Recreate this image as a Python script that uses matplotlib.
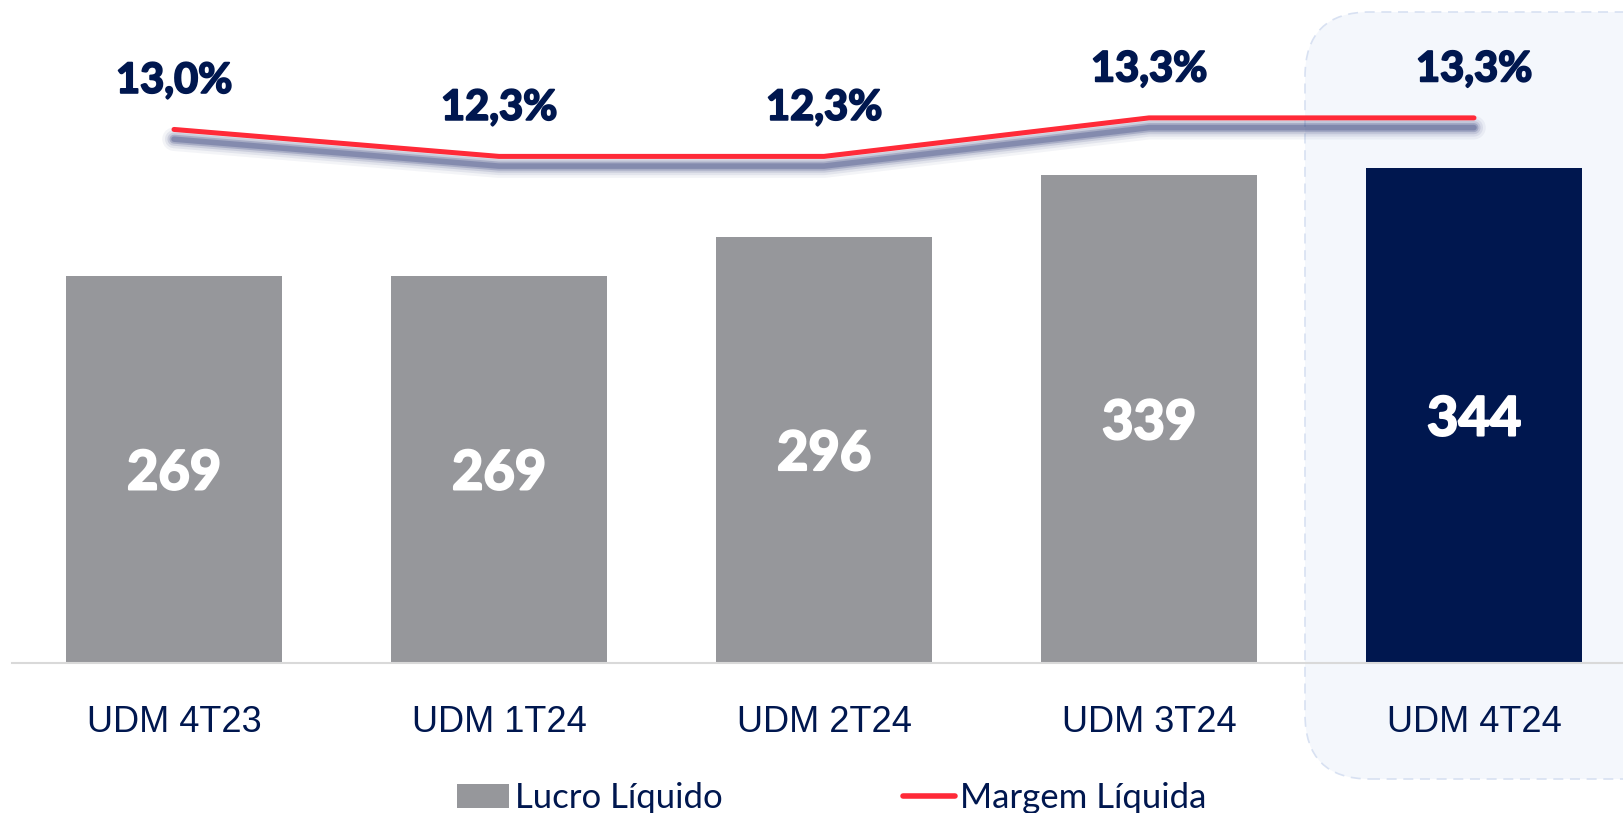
import numpy as np
import matplotlib
matplotlib.use("Agg")
import matplotlib.pyplot as plt
from matplotlib.patches import FancyBboxPatch, Patch
from matplotlib.lines import Line2D
import matplotlib.patheffects as pe

categorias = ["UDM 4T23", "UDM 1T24", "UDM 2T24", "UDM 3T24", "UDM 4T24"]
lucro = [269, 269, 296, 339, 344]
margem = [13.0, 12.3, 12.3, 13.3, 13.3]
margem_txt = ["13,0%", "12,3%", "12,3%", "13,3%", "13,3%"]

navy = "#00174F"
cinza = "#96979B"
vermelho = "#FF2A38"

fig = plt.figure(figsize=(16.24, 8.13), dpi=100)

# caixa de destaque do ultimo periodo
caixa = FancyBboxPatch((1305 / 1624, 34 / 813), 400 / 1624, 767 / 813,
                       boxstyle="round,pad=0,rounding_size=0.04",
                       mutation_aspect=1624 / 813,
                       transform=fig.transFigure, facecolor="#F4F7FC",
                       edgecolor="#D8E1F2", lw=1.2, ls=(0, (6, 4)), zorder=-5)
fig.patches.append(caixa)

ax = fig.add_axes([11.5 / 1624, 150 / 813, 1625 / 1624, 663 / 813])
ax.set_zorder(2)
ax.patch.set_alpha(0)
x = np.arange(len(categorias))
cores = [cinza] * 4 + [navy]
negrito = [pe.withStroke(linewidth=1.6, foreground="white")]
barras = ax.bar(x, lucro, width=0.665, color=cores, zorder=2)
for b, v in zip(barras, lucro):
    ax.text(b.get_x() + b.get_width() / 2, v / 2 - 3, str(v), ha="center", va="center",
            color="white", fontsize=39, fontweight="bold", family="Lato",
            path_effects=negrito)

ax.set_xlim(-0.5, 4.5)
ax.set_ylim(0, 461)
ax.set_yticks([])
for s in ["top", "right", "left"]:
    ax.spines[s].set_visible(False)
ax.spines["bottom"].set_color("#D9D9D9")
ax.spines["bottom"].set_linewidth(1.5)
ax.set_xticks(x)
ax.set_xticklabels(categorias, fontsize=26, color=navy, family="Liberation Sans")
ax.tick_params(axis="x", length=0, pad=30)

ax2 = ax.twinx()
ax2.set_zorder(3)
ax2.set_ylim(-0.858, 16.362)
ax2.axis("off")
# sombra desfocada sob a linha
sombra = [pe.SimpleLineShadow(offset=(0, -7), shadow_color="#1E2C6B", alpha=a, linewidth=w)
          for a, w in ((0.05, 17), (0.08, 13), (0.12, 9.5), (0.2, 6.5), (0.25, 4))]
ax2.plot(x, margem, color=vermelho, lw=3.6, solid_capstyle="round", zorder=3,
         path_effects=sombra + [pe.Normal()])
for xi, m, t in zip(x, margem, margem_txt):
    ax2.annotate(t, (xi, m), xytext=(0, 35), textcoords="offset points",
                 ha="center", va="center", fontsize=30, fontweight="bold",
                 family="Lato", color=navy,
                 path_effects=[pe.withStroke(linewidth=1.4, foreground=navy)])

handles = [Patch(facecolor=cinza), Line2D([0], [0], color=vermelho, lw=4, solid_capstyle="round")]
leg = fig.legend(handles, ["Lucro Líquido", "Margem Líquida"], loc="center",
                 bbox_to_anchor=(832 / 1624, 15 / 813), ncol=2, frameon=False,
                 prop={"family": "Lato", "size": 25}, handlelength=1.5,
                 handletextpad=0.15, columnspacing=5.2)
for t in leg.get_texts():
    t.set_color(navy)

fig.savefig("out.png", dpi=100)
